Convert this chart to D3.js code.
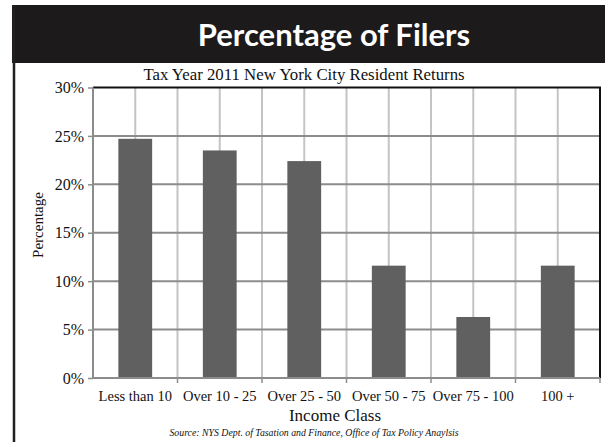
<!DOCTYPE html>
<html lang="en">
<head>
  <meta charset="UTF-8">
  <title>Percentage of Filers</title>
  <style>
    body { margin: 0; background: #fff; }
    svg { display: block; }
  </style>
  <script src="https://d3js.org/d3.v7.min.js"></script>
</head>
<body>
<div id="chart"></div>
<script>
// data
var categories = ["Less than 10", "Over 10 - 25", "Over 25 - 50", "Over 50 - 75", "Over 75 - 100", "100 +"];
var percentValues = [24.7, 23.5, 22.4, 11.6, 6.3, 11.6];
var yTicks = [0, 5, 10, 15, 20, 25, 30];

var fullWidth = 605, fullHeight = 442;
var margin = {top: 87.5, right: 5, bottom: 64, left: 93};
var width = fullWidth - margin.left - margin.right;
var height = fullHeight - margin.top - margin.bottom;
var serif = "'Liberation Serif', 'DejaVu Serif', serif";

var svg = d3.select("#chart").append("svg")
    .attr("width", fullWidth)
    .attr("height", fullHeight);

// header band
svg.append("rect")
    .attr("x", 12).attr("y", 5)
    .attr("width", fullWidth - 12).attr("height", 58)
    .attr("fill", "#1c1a1b");
svg.append("line")
    .attr("x1", 14).attr("x2", 14)
    .attr("y1", 5).attr("y2", fullHeight)
    .attr("stroke", "#231f20").attr("stroke-width", 2.5);

svg.append("text")
    .attr("x", 334).attr("y", 46)
    .attr("text-anchor", "middle")
    .attr("fill", "#fff")
    .attr("font-family", "Lato, 'Open Sans', sans-serif")
    .attr("font-weight", "bold")
    .attr("font-size", "31px")
    .text("Percentage of Filers");

svg.append("text")
    .attr("x", 304).attr("y", 80)
    .attr("text-anchor", "middle")
    .attr("font-family", serif)
    .attr("font-size", "16.8px")
    .attr("fill", "#111")
    .text("Tax Year 2011 New York City Resident Returns");

var g = svg.append("g")
    .attr("transform", "translate(" + margin.left + "," + margin.top + ")");

var x = d3.scaleBand()
    .domain(categories)
    .range([0, width])
    .paddingInner(0.6)
    .paddingOuter(0.3);

var xb = d3.scaleBand().domain(categories).range([0, width]);

var y = d3.scaleLinear()
    .domain([0, 30])
    .range([height, 0]);

// vertical grid lines: at category centers and boundaries
g.selectAll(".vgrid-c")
    .data(categories)
    .enter().append("line")
    .attr("x1", function(d) { return xb(d) + xb.bandwidth() / 2; })
    .attr("x2", function(d) { return xb(d) + xb.bandwidth() / 2; })
    .attr("y1", 0).attr("y2", height)
    .attr("stroke", "#c4c4c4").attr("stroke-width", 2);

g.selectAll(".vgrid-b")
    .data(categories.slice(1))
    .enter().append("line")
    .attr("x1", function(d) { return xb(d); })
    .attr("x2", function(d) { return xb(d); })
    .attr("y1", 0).attr("y2", height)
    .attr("stroke", "#c4c4c4").attr("stroke-width", 2);

// horizontal grid lines
g.selectAll(".hgrid")
    .data(yTicks.slice(1, -1))
    .enter().append("line")
    .attr("x1", 0).attr("x2", width)
    .attr("y1", function(d) { return y(d); })
    .attr("y2", function(d) { return y(d); })
    .attr("stroke", "#8c8c8c").attr("stroke-width", 2);

// bars
g.selectAll(".bar")
    .data(percentValues)
    .enter().append("rect")
    .attr("x", function(d, i) { return x(categories[i]); })
    .attr("width", x.bandwidth())
    .attr("y", function(d) { return y(d); })
    .attr("height", function(d) { return height - y(d); })
    .attr("fill", "#5f605f");

// frame: top and right black
g.append("path")
    .attr("d", "M0,0H" + width + "V" + height)
    .attr("fill", "none")
    .attr("stroke", "#111").attr("stroke-width", 2);

// y axis
var yAxis = g.append("g")
    .call(d3.axisLeft(y).tickValues(yTicks).tickSize(5).tickFormat(function(d) { return d + "%"; }));
yAxis.attr("font-family", null);
yAxis.select(".domain").attr("stroke", "#8c8c8c").attr("stroke-width", 2).attr("d", "M0," + height + "V0");
yAxis.selectAll(".tick line").attr("stroke", "#8c8c8c").attr("stroke-width", 1.5);
yAxis.selectAll(".tick text")
    .attr("x", -9)
    .style("font-family", serif)
    .style("font-size", "16px")
    .attr("fill", "#111");

// x axis
var xAxis = g.append("g")
    .attr("transform", "translate(0," + height + ")")
    .call(d3.axisBottom(xb).tickSize(0).tickPadding(13));
xAxis.attr("font-family", null);
xAxis.select(".domain").attr("stroke", "#8c8c8c").attr("stroke-width", 2).attr("d", "M0,0H" + width);
xAxis.selectAll(".tick text")
    .style("font-family", serif)
    .style("font-size", "14.5px")
    .attr("fill", "#111");

g.selectAll(".xtick")
    .data(categories)
    .enter().append("line")
    .attr("x1", function(d) { return xb(d) + xb.bandwidth(); })
    .attr("x2", function(d) { return xb(d) + xb.bandwidth(); })
    .attr("y1", height).attr("y2", height + 5)
    .attr("stroke", "#8c8c8c").attr("stroke-width", 1.5);

// axis titles
svg.append("text")
    .attr("transform", "translate(43,225) rotate(-90)")
    .attr("text-anchor", "middle")
    .attr("font-family", serif)
    .attr("font-size", "15px")
    .attr("fill", "#111")
    .text("Percentage");

svg.append("text")
    .attr("x", 335).attr("y", 421)
    .attr("text-anchor", "middle")
    .attr("font-family", serif)
    .attr("font-size", "17px")
    .attr("fill", "#111")
    .text("Income Class");

svg.append("text")
    .attr("x", 314).attr("y", 436)
    .attr("text-anchor", "middle")
    .attr("font-family", serif)
    .attr("font-style", "italic")
    .attr("font-size", "9.8px")
    .attr("fill", "#111")
    .text("Source: NYS Dept. of Tasation and Finance, Office of Tax Policy Anaylsis");
</script>
</body>
</html>
